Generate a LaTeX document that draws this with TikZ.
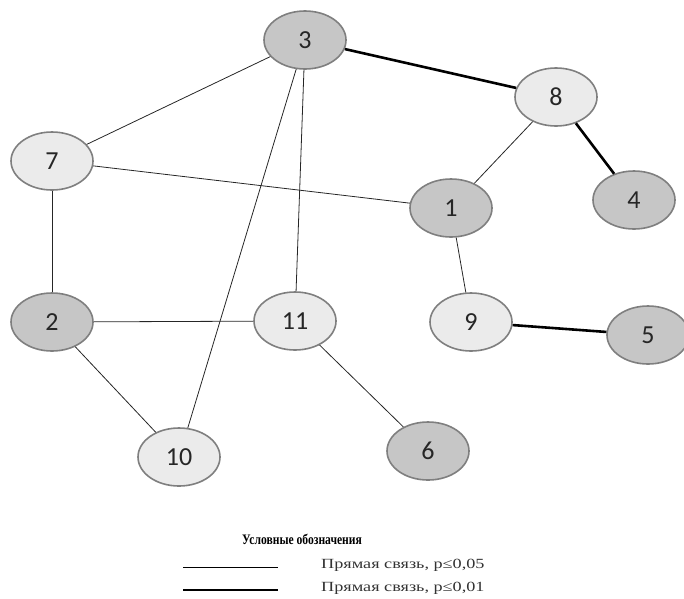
\documentclass[tikz,border=0pt]{standalone}
\usepackage{fontspec}
\setmainfont{Liberation Serif}
\newfontfamily\numfont{Carlito}
\usetikzlibrary{shapes.geometric}
\definecolor{darkn}{HTML}{C6C6C6}
\definecolor{lightn}{HTML}{EBEBEB}
\definecolor{rim}{HTML}{7F7F7F}
\begin{document}
\begin{tikzpicture}[x=1pt,y=-1pt,
  vtx/.style={ellipse,draw=rim,line width=1.6pt,minimum width=82pt,minimum height=58pt,inner sep=0pt,font=\numfont\fontsize{26}{26}\selectfont,text=black!85},
  dk/.style={vtx,fill=darkn},
  lt/.style={vtx,fill=lightn},
  weak/.style={line width=0.8pt,black!85},
  strong/.style={line width=2.6pt,black},
  legtxt/.style={anchor=west,font=\fontsize{14}{14}\selectfont,text=black!80,inner sep=0pt}]
\useasboundingbox (0,0) rectangle (684,598);
\node[dk] (n3) at (305,40) {3};
\node[lt] (n8) at (556,97) {8};
\node[lt] (n7) at (52,161) {7};
\node[dk] (n1) at (451,208) {1};
\node[dk] (n4) at (634,200) {4};
\node[dk] (n2) at (52,322) {2};
\node[lt] (n11) at (295,321) {11};
\node[lt] (n9) at (471,322) {9};
\node[dk] (n5) at (648,335) {5};
\node[lt] (n10) at (179,457) {10};
\node[dk] (n6) at (428,451) {6};
\draw[weak] (n3) -- (n7);
\draw[strong] (n3) -- (n8);
\draw[weak] (n3) -- (n11);
\draw[weak] (n3) -- (n10);
\draw[weak] (n7) -- (n1);
\draw[weak] (n7) -- (n2);
\draw[weak] (n8) -- (n1);
\draw[strong] (n8) -- (n4);
\draw[weak] (n1) -- (n9);
\draw[strong] (n9) -- (n5);
\draw[weak] (n2) -- (n11);
\draw[weak] (n2) -- (n10);
\draw[weak] (n11) -- (n6);
\node[font=\bfseries\fontsize{14.5}{14.5}\selectfont,inner sep=0pt] (title) at (302,539) {\scalebox{0.8}[1]{Условные обозначения}};
\coordinate (a1) at (183,567);
\coordinate (b1) at (278,567);
\coordinate (a2) at (183,590);
\coordinate (b2) at (278,590);
\draw[weak,black] (a1) -- (b1);
\draw[strong] (a2) -- (b2);
\node[legtxt] (l1) at (321,565) {\scalebox{1.3}[1]{Прямая связь, p≤0,05}};
\node[legtxt] (l2) at (321,588) {\scalebox{1.3}[1]{Прямая связь, p≤0,01}};
\end{tikzpicture}
\end{document}
